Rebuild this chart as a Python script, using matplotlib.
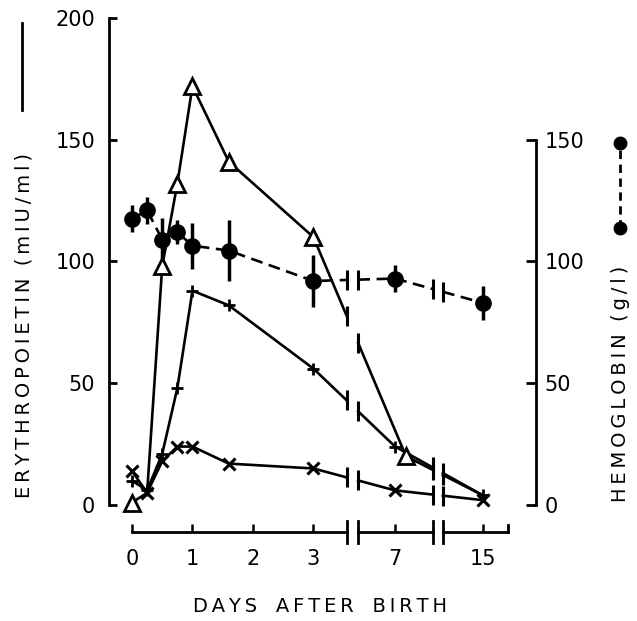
import numpy as np
import matplotlib
matplotlib.use('Agg')
import matplotlib.pyplot as plt
import matplotlib.transforms as mtransforms
from matplotlib.lines import Line2D

plt.rcParams['font.family'] = ['DejaVu Sans']

# data (days after birth)
days = [0, 0.25, 0.5, 0.75, 1, 1.6, 3, 7, 15]
days_tri = [0, 0.25, 0.5, 0.75, 1, 1.6, 3, 8, 15]
epo_tri = [1, 5, 98, 132, 172, 141, 110, 20, 4]
epo_plus = [10, 6, 21, 48, 88, 82, 56, 24, 4]
epo_x = [14, 5, 18, 24, 24, 17, 15, 6, 2]
hb = [117.5, 121, 109, 112, 106.5, 104.5, 92, 93, 83]
hb_err = [5.5, 5.5, 9, 5, 9.5, 12.5, 10.5, 5.5, 7]

xticks = [0, 1, 2, 3, 7, 15]
left_ticks = [0, 50, 100, 150, 200]
right_ticks = [0, 50, 100, 150]

# broken time axis: gaps between these day values
gaps = [(4.63, 5.19), (10.42, 11.36)]
axis_end = 17.26

knot_days = [-10, 0, 3, 7, 15, 40]
knot_pos = [-10, 0, 3, 4.35, 5.80, 5.80 + 25 * 0.18125]


def fwd(d):
    return np.interp(d, knot_days, knot_pos)


def inv(p):
    return np.interp(p, knot_pos, knot_days)


def split_at_gaps(x, y):
    # cut a polyline at the break gaps (linear in scaled x)
    px = fwd(np.asarray(x, float))
    y = np.asarray(y, float)
    xs, ys, cuts = [], [], []
    for i in range(len(x)):
        if i > 0:
            for g0, g1 in gaps:
                if x[i - 1] < g0 and x[i] > g1:
                    p0, p1 = fwd(g0), fwd(g1)
                    y0 = np.interp(p0, px[i - 1:i + 1], y[i - 1:i + 1])
                    y1 = np.interp(p1, px[i - 1:i + 1], y[i - 1:i + 1])
                    xs += [g0, np.nan, g1]
                    ys += [y0, np.nan, y1]
                    cuts += [(g0, y0), (g1, y1)]
        xs.append(x[i])
        ys.append(y[i])
    return xs, ys, cuts


fig = plt.figure(figsize=(6.37, 6.21), dpi=100)
ax = fig.add_axes([109 / 637, 116 / 621, 427 / 637, 487 / 621])
ax.set_xscale('function', functions=(fwd, inv))
ax.set_xlim(inv(-0.38), inv(6.68))
ax.set_ylim(0, 200)

lw = 1.9
for x, y, kw in [
    (days, epo_x, dict(marker='x', ms=8, mew=2.2)),
    (days, epo_plus, dict(marker='+', ms=8, mew=2)),
    (days_tri, epo_tri, dict(marker='^', ms=12, mew=2, mfc='white', markevery=[0, 2, 3, 4, 5, 6, 7])),
]:
    xs, ys, cuts = split_at_gaps(x, y)
    ax.plot(xs, ys, color='black', lw=lw, zorder=2)
    ax.plot(x, y, ls='none', color='black', mec='black', zorder=3, clip_on=False, **kw)
    for cx, cy in cuts:
        ax.plot([cx], [cy], marker='|', ms=15, mew=2.2, color='black', clip_on=False)

# hemoglobin, dashed with SD bars
xs, ys, cuts = split_at_gaps(days, hb)
ax.plot(xs, ys, color='black', lw=lw, ls=(0, (4.5, 2.5)), zorder=2)
ax.errorbar(days, hb, yerr=hb_err, fmt='o', color='black', ms=11, elinewidth=2.5, capsize=0, zorder=4)
for cx, cy in cuts:
    ax.plot([cx], [cy], marker='|', ms=15, mew=2.2, color='black', clip_on=False)

# spines and ticks
for s in ['top', 'right', 'bottom']:
    ax.spines[s].set_visible(False)
ax.spines['left'].set_linewidth(2)
ax.spines['bottom'].set_position(('axes', -27 / 487))
ax.set_yticks(left_ticks)
ax.tick_params(axis='y', direction='in', length=6, width=2, labelsize=15, pad=10)
ax.set_xticks(xticks)
ax.set_xticklabels([str(t) for t in xticks])
ax.xaxis.set_minor_locator(plt.NullLocator())
ax.tick_params(axis='x', direction='in', length=6, width=1.8, labelsize=15, pad=12)

ax2 = ax.twinx()
ax2.set_ylim(0, 200)
for s in ['top', 'left', 'bottom']:
    ax2.spines[s].set_visible(False)
ax2.spines['right'].set_bounds(0, 150)
ax2.spines['right'].set_linewidth(2)
ax2.set_yticks(right_ticks)
ax2.tick_params(axis='y', direction='in', length=7, width=2, labelsize=15, pad=6)

# broken x axis line
yb = -27 / 487
bt = mtransforms.blended_transform_factory(ax.transData, ax.transAxes)
seg_edges = [(0, gaps[0][0]), (gaps[0][1], gaps[1][0]), (gaps[1][1], axis_end)]
bar = 11 / 487
for a, b in seg_edges:
    ax.plot([a, b], [yb, yb], color='black', lw=2, transform=bt, clip_on=False)
for g in gaps:
    for gx in g:
        ax.plot([gx, gx], [yb - bar, yb + bar], color='black', lw=2, transform=bt, clip_on=False)
ax.plot([axis_end, axis_end], [yb, yb + 7 / 487], color='black', lw=2, transform=bt, clip_on=False)

# axis titles (letter-spaced)
def spaced(s):
    return '\u2009'.join(s)

fig.text(24 / 637, (621 - 498) / 621, spaced('ERYTHROPOIETIN') + '  ' + spaced('(mIU/ml)'),
         rotation=90, ha='center', va='bottom', fontsize=14)
fig.add_artist(Line2D([22 / 637, 22 / 637], [(621 - 110) / 621, (621 - 23) / 621], color='black', lw=2))

fig.text(620 / 637, (621 - 502) / 621, spaced('HEMOGLOBIN') + '  ' + spaced('(g/l)'),
         rotation=90, ha='center', va='bottom', fontsize=14)
fig.add_artist(Line2D([620 / 637, 620 / 637], [(621 - 228) / 621, (621 - 143) / 621], color='black', lw=2,
                      ls=(0, (3, 2)), marker='o', ms=9))

fig.text(320 / 637, (621 - 607) / 621, '   '.join(spaced(w) for w in ['DAYS', 'AFTER', 'BIRTH']),
         ha='center', va='center', fontsize=14)

fig.savefig('out.png', dpi=100)
